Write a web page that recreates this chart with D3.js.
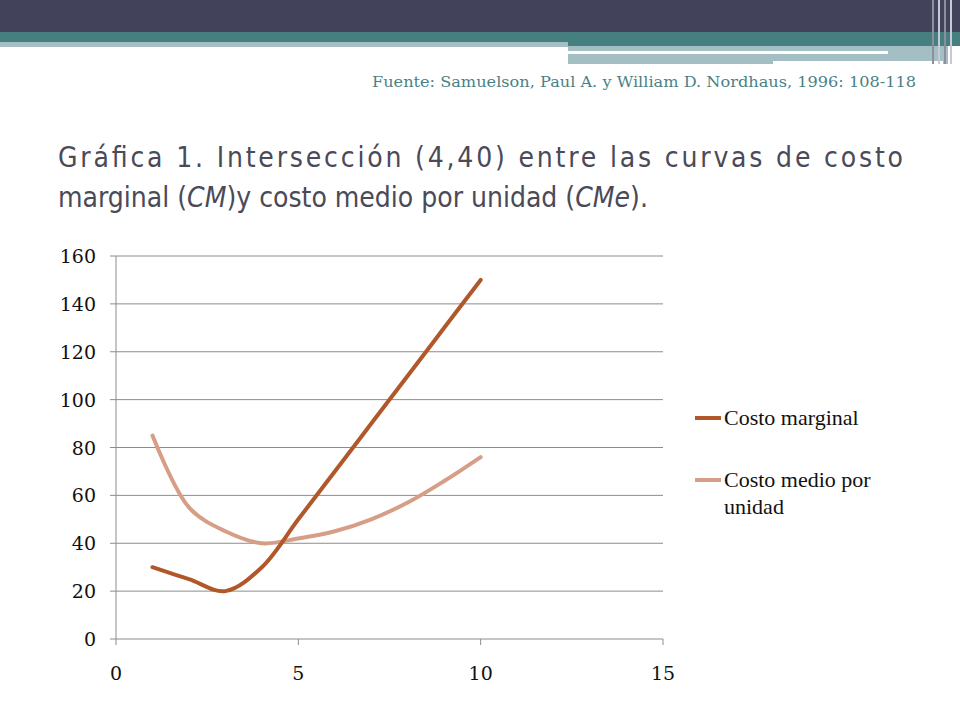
<!DOCTYPE html>
<html><head><meta charset="utf-8">
<script src="https://cdn.jsdelivr.net/npm/d3@7"></script>
<style>body{margin:0;background:#fff}</style>
</head><body>
<svg width="960" height="720"></svg>
<script>
const xValues = [1, 2, 3, 4, 5, 6, 7, 8, 9, 10];
const costoMarginal = [30, 25, 20, 30, 50, 70, 90, 110, 130, 150];
const costoMedio = [85, 55, 45, 40, 42, 45, 50, 57, 66, 76];
const xTicks = [0, 5, 10, 15];
const yTicks = [0, 20, 40, 60, 80, 100, 120, 140, 160];
const seriesNames = ["Costo marginal", "Costo medio por unidad"];
const seriesColors = ["#b0582a", "#d79e87"];

const svg = d3.select("svg");

// header bands
svg.append("rect").attr("x", 0).attr("y", 0).attr("width", 960).attr("height", 32).attr("fill", "#42435a");
svg.append("rect").attr("x", 0).attr("y", 32).attr("width", 960).attr("height", 14).attr("fill", "#467f80");
svg.append("rect").attr("x", 0).attr("y", 42).attr("width", 568).attr("height", 5).attr("fill", "#a4bfc3");
svg.append("rect").attr("x", 568).attr("y", 46).attr("width", 380).attr("height", 18).attr("fill", "#a4bfc3");
svg.append("rect").attr("x", 568).attr("y", 51).attr("width", 320).attr("height", 3).attr("fill", "#fff");
svg.append("rect").attr("x", 773).attr("y", 61).attr("width", 170).attr("height", 4).attr("fill", "#fff");
[932, 938, 944, 950].forEach((x, i) => {
  svg.append("rect").attr("x", x).attr("y", 0).attr("width", 2).attr("height", 64).attr("fill", i % 2 ? "#c8c9d2" : "#8d8fa0");
});

svg.append("text").attr("x", 916).attr("y", 87).attr("text-anchor", "end")
  .attr("font-family", "DejaVu Serif").attr("font-size", 15).attr("fill", "#4a7f86")
  .attr("textLength", 544).attr("lengthAdjust", "spacingAndGlyphs")
  .text("Fuente: Samuelson, Paul A. y William D. Nordhaus, 1996: 108-118");

const title = svg.append("g").attr("font-family", "DejaVu Sans Condensed, DejaVu Sans").attr("font-size", 28).attr("fill", "#4a4a58");
title.append("text").attr("x", 58).attr("y", 167).attr("textLength", 845).attr("lengthAdjust", "spacing")
  .text("Gráfica 1. Intersección (4,40) entre las curvas de costo");
const t2 = title.append("text").attr("x", 58).attr("y", 207);
t2.append("tspan").text("marginal  (");
t2.append("tspan").attr("font-style", "italic").text("CM");
t2.append("tspan").text(")y costo medio por unidad (");
t2.append("tspan").attr("font-style", "italic").text("CMe");
t2.append("tspan").text(").");

const x = d3.scaleLinear().domain([0, 15]).range([116, 663]);
const y = d3.scaleLinear().domain([0, 160]).range([639, 256]);

const g = svg.append("g");
g.selectAll(".grid").data(yTicks).join("line")
  .attr("x1", 116).attr("x2", 663).attr("y1", d => y(d)).attr("y2", d => y(d))
  .attr("stroke", "#8c8c8c").attr("stroke-width", 1);
g.append("line").attr("x1", 116).attr("x2", 116).attr("y1", 256).attr("y2", 639).attr("stroke", "#8c8c8c");
xTicks.forEach(t => g.append("line").attr("x1", x(t)).attr("x2", x(t)).attr("y1", 639).attr("y2", 645).attr("stroke", "#8c8c8c"));
yTicks.forEach(t => g.append("line").attr("x1", 110).attr("x2", 116).attr("y1", y(t)).attr("y2", y(t)).attr("stroke", "#8c8c8c"));

g.selectAll(".yl").data(yTicks).join("text")
  .attr("x", 96).attr("y", d => y(d) + 7).attr("text-anchor", "end")
  .attr("font-family", "DejaVu Serif").attr("font-size", 19).attr("fill", "#111").text(d => d);
g.selectAll(".xl").data(xTicks).join("text")
  .attr("x", d => x(d)).attr("y", 680).attr("text-anchor", "middle")
  .attr("font-family", "DejaVu Serif").attr("font-size", 19).attr("fill", "#111").text(d => d);

const line = d3.line().x((d, i) => x(xValues[i])).y(d => y(d)).curve(d3.curveCatmullRom.alpha(0.5));
[costoMedio, costoMarginal].forEach((s, k) => {
  g.append("path").attr("d", line(s)).attr("fill", "none")
    .attr("stroke", seriesColors[1 - k]).attr("stroke-width", 4).attr("stroke-linecap", "round");
});

const lg = svg.append("g").attr("font-family", "Liberation Serif").attr("font-size", 22).attr("fill", "#111");
lg.append("line").attr("x1", 695).attr("x2", 721).attr("y1", 418).attr("y2", 418).attr("stroke", seriesColors[0]).attr("stroke-width", 4);
lg.append("text").attr("x", 724).attr("y", 425).text(seriesNames[0]);
lg.append("line").attr("x1", 695).attr("x2", 721).attr("y1", 480).attr("y2", 480).attr("stroke", seriesColors[1]).attr("stroke-width", 4);
lg.append("text").attr("x", 724).attr("y", 487).text("Costo medio por");
lg.append("text").attr("x", 724).attr("y", 514).text("unidad");
</script>
</body></html>
